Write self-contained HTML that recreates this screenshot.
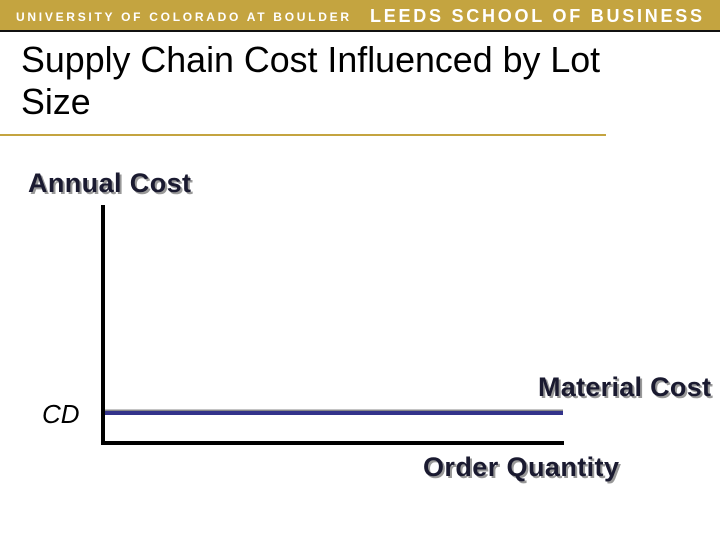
<!DOCTYPE html>
<html><head><meta charset="utf-8"><style>
body{margin:0;width:720px;height:540px;background:#fff;overflow:hidden;font-family:"Liberation Sans",sans-serif;position:relative}
.a{position:absolute}
</style></head><body>
<div class="a" style="left:0;top:0;width:720px;height:30px;background:#c4a440"></div>
<div class="a" style="left:0;top:30px;width:720px;height:2px;background:#111"></div>
<svg class="a" style="left:0;top:0" width="720" height="30">
<text x="16" y="21" font-size="12" font-weight="bold" fill="#fff" font-family="Liberation Sans" textLength="333" lengthAdjust="spacing">UNIVERSITY OF COLORADO AT BOULDER</text>
<text x="370" y="22" font-size="18" font-weight="bold" fill="#fff" font-family="Liberation Sans" textLength="332" lengthAdjust="spacing">LEEDS SCHOOL OF BUSINESS</text>
</svg>
<div class="a" style="left:21px;top:39px;font-size:35.8px;line-height:42px;color:#000;width:600px">Supply Chain Cost Influenced by Lot Size</div>
<div class="a" style="left:0;top:134px;width:606px;height:2px;background:#c4a440"></div>
<svg class="a" style="left:0;top:0" width="720" height="540">
<g id="marks"></g>
<rect x="101" y="205" width="4" height="240" fill="#000"/>
<rect x="101" y="441" width="463" height="4" fill="#000"/>
<text x="30" y="194" font-size="27" font-weight="bold" fill="#999" font-family="Liberation Sans" textLength="163">Annual Cost</text>
<text x="28" y="192" font-size="27" font-weight="bold" fill="#1a1a30" font-family="Liberation Sans" textLength="163">Annual Cost</text>
<text x="42" y="423" font-size="26" font-style="italic" fill="#000" font-family="Liberation Sans">CD</text>
<text x="540" y="398" font-size="27" font-weight="bold" fill="#999" font-family="Liberation Sans" textLength="173">Material Cost</text>
<text x="538" y="396" font-size="27" font-weight="bold" fill="#1a1a30" font-family="Liberation Sans" textLength="173">Material Cost</text>
<text x="425" y="478" font-size="27" font-weight="bold" fill="#999" font-family="Liberation Sans" textLength="196">Order Quantity</text>
<text x="423" y="476" font-size="27" font-weight="bold" fill="#1a1a30" font-family="Liberation Sans" textLength="196">Order Quantity</text>
</svg>
<script>
const quantities=[0,1];
const materialCost=[1,1];
const x=q=>105+q*458, y=v=>443-v*30;
const g=document.getElementById('marks');
const ns='http://www.w3.org/2000/svg';
const sh=document.createElementNS(ns,'line');
sh.setAttribute('x1',x(quantities[0]));sh.setAttribute('x2',x(quantities[1]));
sh.setAttribute('y1',y(materialCost[0])-2);sh.setAttribute('y2',y(materialCost[1])-2);
sh.setAttribute('stroke','#888');sh.setAttribute('stroke-width','3');


g.appendChild(sh);
const ln=document.createElementNS(ns,'line');
ln.setAttribute('x1',x(quantities[0]));ln.setAttribute('x2',x(quantities[1]));
ln.setAttribute('y1',y(materialCost[0]));ln.setAttribute('y2',y(materialCost[1]));
ln.setAttribute('stroke','#33338a');ln.setAttribute('stroke-width','4');


g.appendChild(ln);
</script>
</body></html>
